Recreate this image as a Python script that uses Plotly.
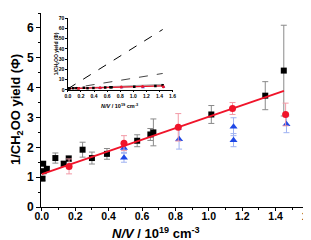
import plotly.graph_objects as go

# ---- data ----
sq_x = [0.004, 0.008, 0.01, 0.03, 0.081, 0.131, 0.161, 0.244, 0.30, 0.39, 0.571, 0.65, 0.668, 1.015, 1.338, 1.449]
sq_y = [0.95, 1.45, 1.20, 1.28, 1.64, 1.45, 1.62, 1.92, 1.64, 1.78, 2.22, 2.43, 2.50, 3.10, 3.73, 4.57]
sq_err = [0.06, 0.06, 0.05, 0.06, 0.17, 0.08, 0.10, 0.25, 0.20, 0.18, 0.20, 0.20, 0.45, 0.30, 0.47, 1.52]

ci_x = [0.163, 0.492, 0.817, 1.142, 1.46]
ci_y = [1.36, 2.14, 2.67, 3.30, 3.10]
ci_err = [0.25, 0.25, 0.46, 0.20, 0.38]

tr_x = [0.492, 0.492, 0.822, 1.148, 1.148, 1.465]
tr_y = [1.65, 1.98, 2.27, 2.69, 2.24, 2.77]
tr_err = [0.15, 0.15, 0.33, 0.30, 0.22, 0.28]

fit_intercept = 1.10
fit_slope = 1.925
fit_x = [0.0, 1.45]

inset_line_x = [0.0, 1.45]
dash_hi_y = [1.0, 59.0]
dash_lo_y = [1.0, 16.0]
gray_lo_y = [1.0, 3.9]
gray_hi_y = [1.3, 5.4]

x_ticks = [0.0, 0.2, 0.4, 0.6, 0.8, 1.0, 1.2, 1.4, 1.6]
x_tick_labels = ["0.0", "0.2", "0.4", "0.6", "0.8", "1.0", "1.2", "1.4", "1.6"]
y_ticks = [0, 1, 2, 3, 4, 5, 6]
inset_y_ticks = [0, 10, 20, 30, 40, 50, 60, 70]

fit_y = [fit_intercept + fit_slope * x for x in fit_x]

FONT = "Liberation Sans"
RED = "#f0142a"
BLUE = "#1f48e6"

fig = go.Figure()

# ---- main plot ----
fig.add_trace(go.Scatter(
    x=sq_x, y=sq_y, mode="markers",
    marker=dict(symbol="square", size=6, color="black"),
    error_y=dict(type="data", array=sq_err, color="#8a8a8a", thickness=1, width=3),
    xaxis="x", yaxis="y", showlegend=False))
fig.add_trace(go.Scatter(
    x=tr_x, y=tr_y, mode="markers",
    marker=dict(symbol="triangle-up", size=7, color=BLUE),
    error_y=dict(type="data", array=tr_err, color="#9fb2f2", thickness=1, width=3),
    xaxis="x", yaxis="y", showlegend=False))
fig.add_trace(go.Scatter(
    x=ci_x, y=ci_y, mode="markers",
    marker=dict(symbol="circle", size=7, color=RED),
    error_y=dict(type="data", array=ci_err, color="#f29aa6", thickness=1, width=3),
    xaxis="x", yaxis="y", showlegend=False))
fig.add_trace(go.Scatter(
    x=fit_x, y=fit_y, mode="lines",
    line=dict(color=RED, width=2),
    xaxis="x", yaxis="y", showlegend=False))

# ---- inset ----
fig.add_trace(go.Scatter(x=inset_line_x, y=gray_lo_y, mode="lines",
                         line=dict(color="#9a9a9a", width=0.8),
                         xaxis="x2", yaxis="y2", showlegend=False))
fig.add_trace(go.Scatter(x=inset_line_x, y=gray_hi_y, mode="lines",
                         line=dict(color="#9a9a9a", width=0.8), fill="tonexty",
                         fillcolor="rgba(150,150,150,0.55)",
                         xaxis="x2", yaxis="y2", showlegend=False))
fig.add_trace(go.Scatter(x=inset_line_x, y=dash_hi_y, mode="lines",
                         line=dict(color="black", width=1, dash="dash"),
                         xaxis="x2", yaxis="y2", showlegend=False))
fig.add_trace(go.Scatter(x=inset_line_x, y=dash_lo_y, mode="lines",
                         line=dict(color="#444444", width=1, dash="dash"),
                         xaxis="x2", yaxis="y2", showlegend=False))
fig.add_trace(go.Scatter(x=fit_x, y=fit_y, mode="lines",
                         line=dict(color=RED, width=1.2),
                         xaxis="x2", yaxis="y2", showlegend=False))
fig.add_trace(go.Scatter(x=sq_x, y=sq_y, mode="markers",
                         marker=dict(symbol="square", size=2.5, color="black"),
                         xaxis="x2", yaxis="y2", showlegend=False))
fig.add_trace(go.Scatter(x=tr_x, y=tr_y, mode="markers",
                         marker=dict(symbol="triangle-up", size=3, color=BLUE),
                         xaxis="x2", yaxis="y2", showlegend=False))
fig.add_trace(go.Scatter(x=ci_x, y=ci_y, mode="markers",
                         marker=dict(symbol="circle", size=3, color=RED),
                         xaxis="x2", yaxis="y2", showlegend=False))

axis_common = dict(showline=True, linecolor="black", linewidth=1, showgrid=False,
                   zeroline=False, ticks="outside", tickcolor="black")

W, H = 311, 240
L, R, T, B = 33, 10, 2, 41

fig.update_layout(
    width=W, height=H,
    margin=dict(l=L, r=R, t=T, b=B),
    paper_bgcolor="white", plot_bgcolor="white",
    font=dict(family=FONT, color="black"),
    xaxis=dict(**axis_common, range=[-0.005, 1.6], tickvals=x_ticks, ticktext=x_tick_labels,
               ticklen=3, tickwidth=1, ticklabelstandoff=-4,
               minor=dict(ticks="outside", ticklen=2, dtick=0.1, tickcolor="black"),
               tickfont=dict(family=FONT, size=10.5, weight="bold"), domain=[0, 1]),
    yaxis=dict(**axis_common, range=[0, 6.5], tickvals=y_ticks,
               ticklen=4, tickwidth=1,
               minor=dict(ticks="outside", ticklen=2, dtick=0.5, tickcolor="black"),
               tickfont=dict(family=FONT, size=12, weight="bold"), domain=[0, 1]),
    xaxis2=dict(**axis_common, range=[0, 1.6], tickvals=x_ticks, ticktext=x_tick_labels,
                ticklen=1.5, tickwidth=0.5, anchor="y2", domain=[0.1004, 0.4907],
                tickfont=dict(family=FONT, size=5, weight="bold")),
    yaxis2=dict(**axis_common, range=[0, 70], tickvals=inset_y_ticks,
                ticklen=1.5, tickwidth=0.5, anchor="x2", domain=[0.604, 0.973],
                tickfont=dict(family=FONT, size=5, weight="bold")),
)

# annotations positioned in pixel coordinates, converted to paper coordinates
pw, ph = W - L - R, H - T - B
ann_specs = [
    ("<b>1/CH<sub>2</sub>OO yield (Φ)</b>", -90, 8, 100.5, 13),
    ("<b><i>N/V</i> / 10<sup>19</sup> cm<sup>-3</sup></b>", 0, 148, 225, 13),
    ("<b>1/CH<sub>2</sub>OO yield (Φ)</b>", -90, 48, 44, 5),
    ("<b><i>N/V</i> / 10<sup>19</sup> cm<sup>-3</sup></b>", 0, 111, 96, 5.5),
]
fig.update_layout(annotations=[
    dict(text=t, textangle=ang, xref="paper", yref="paper",
         x=(px - L) / pw, y=(H - B - py) / ph, xanchor="center", yanchor="middle",
         showarrow=False, font=dict(family=FONT, size=fs))
    for t, ang, px, py, fs in ann_specs
])

fig.write_html("out.html")
